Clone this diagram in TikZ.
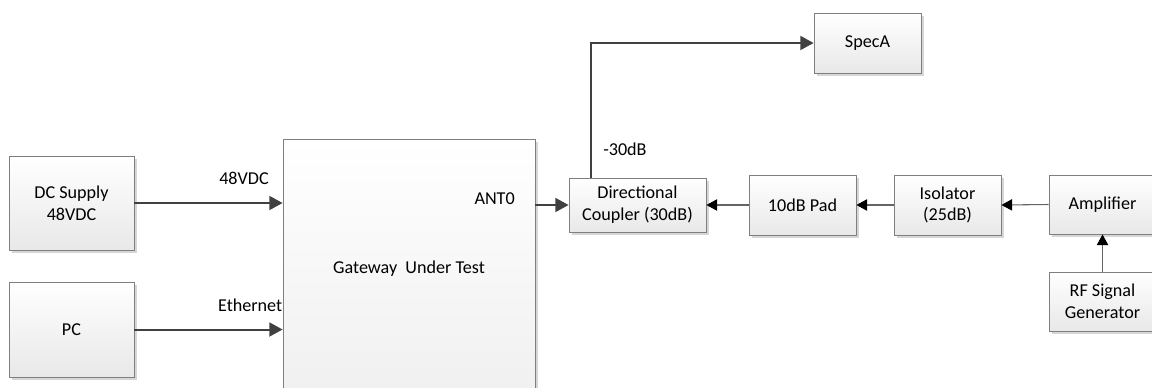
\documentclass[tikz,border=0pt]{standalone}
\usepackage{fontspec}
\setmainfont{Carlito}
\usetikzlibrary{arrows.meta,shadows,calc}
\definecolor{boxline}{RGB}{127,127,127}
\definecolor{wire}{RGB}{64,64,64}
\definecolor{thinwire}{RGB}{100,100,100}
\definecolor{shade}{RGB}{214,214,214}
\begin{document}
\begin{tikzpicture}[x=0.75pt,y=-0.75pt,
  font=\fontsize{13.6}{16.3}\selectfont,
  block/.style={draw=boxline, line width=0.6pt, top color=white, bottom color=black!9,
    inner sep=0pt, align=center,
    drop shadow={shadow xshift=2.2pt, shadow yshift=-2.2pt, fill=shade, opacity=1}},
  bigblock/.style={block, top color=white, bottom color=black!6},
  feed/.style={draw=wire, line width=1.5pt, -{Triangle[length=10pt,width=10.5pt]}},
  chain/.style={draw=thinwire, line width=0.8pt, -{Triangle[length=8pt,width=8.5pt,color=black,fill=black]}},
  lbl/.style={inner sep=0pt}]
\useasboundingbox (0,0) rectangle (1152,387);
\clip (0,0) rectangle (1152,387);

% equipment blocks
\node[block, minimum width=93.75pt, minimum height=70.5pt] (dc) at (71.5,203) {DC Supply\\48VDC};
\node[block, minimum width=93.75pt, minimum height=71.25pt] (pc) at (71.5,329.5) {PC};
\node[bigblock, minimum width=189pt, minimum height=194.25pt] (gw) at (409,269) {Gateway\ \ Under Test};
\node[block, minimum width=102.75pt, minimum height=40.5pt] (cpl) at (637.5,205) {Directional\\Coupler (30dB)};
\node[block, minimum width=80.25pt, minimum height=45pt] (pad) at (802.5,205) {10dB Pad};
\node[block, minimum width=80.25pt, minimum height=45pt] (iso) at (947.5,205) {Isolator\\(25dB)};
\node[block, minimum width=80.25pt, minimum height=44.25pt] (amp) at (1102.5,204.5) {Amplifier};
\node[block, minimum width=80.25pt, minimum height=44.25pt] (rf) at (1102.5,301.5) {RF Signal\\Generator};
\node[block, minimum width=80.25pt, minimum height=45pt] (spec) at (867.5,43) {SpecA};

% supply and control inputs
\draw[feed] (dc.east) -- (dc.east -| gw.west);
\draw[feed] (pc.east) -- (pc.east -| gw.west);
\node[lbl] (vlbl) at (244,178) {48VDC};
\node[lbl, anchor=east] (elbl) at (282.5,305) {Ethernet};

% antenna port to the coupler
\draw[feed] (gw.east |- cpl.west) -- (cpl.west);
\node[lbl, anchor=east] (antlbl) at (515,199) {ANT0};

% coupled port to the spectrum analyser
\draw[feed] ([xshift=16.5pt]cpl.north west) |- (spec.west);
\node[lbl, anchor=west] (cplbl) at (603,149) {-30dB};

% injected signal chain
\draw[chain] (pad.west) -- (cpl.east);
\draw[chain] (iso.west) -- (pad.east);
\draw[chain] (amp.west) -- (iso.east);
\draw[chain] (rf.north) -- (amp.south);
\end{tikzpicture}
\end{document}
